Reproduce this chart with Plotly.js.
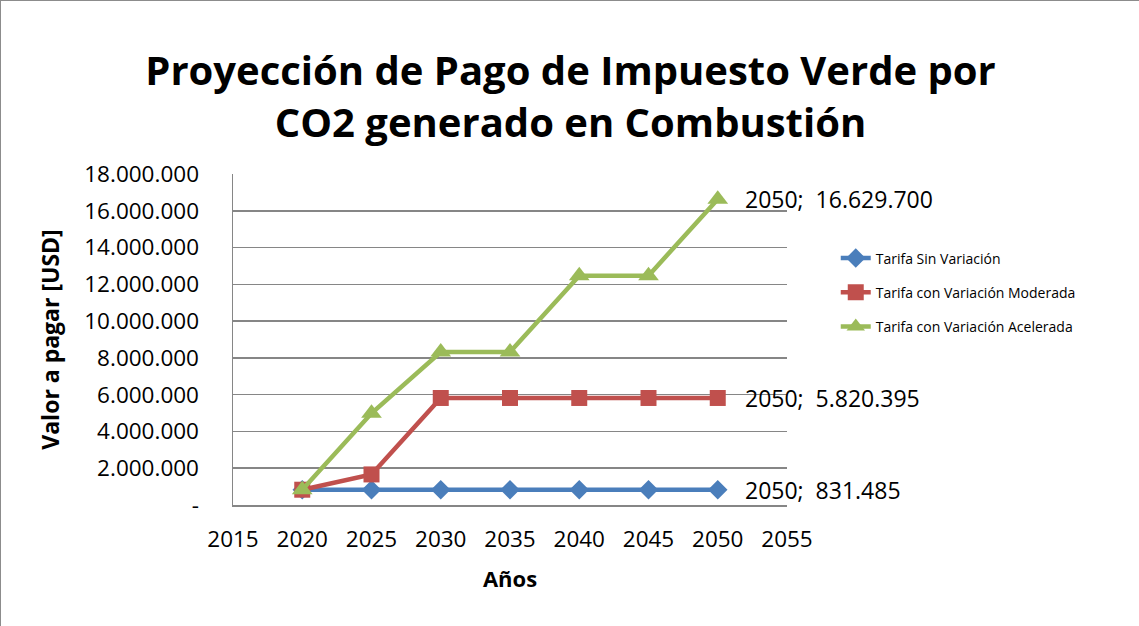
<!DOCTYPE html>
<html>
<head>
<meta charset="utf-8">
<script src="https://cdn.plot.ly/plotly-3.0.1.min.js"></script>
<style>
html,body{margin:0;padding:0;background:#fff;}
#chart{width:1139px;height:626px;box-sizing:border-box;border:1px solid #8c8c8c;}
</style>
</head>
<body>
<div id="chart"></div>
<script>
const years = [2020, 2025, 2030, 2035, 2040, 2045, 2050];
const sinVariacion = [831485, 831485, 831485, 831485, 831485, 831485, 831485];
const moderada = [831485, 1662970, 5820395, 5820395, 5820395, 5820395, 5820395];
const acelerada = [831485, 4988910, 8314850, 8314850, 12472275, 12472275, 16629700];
const seriesNames = ["Tarifa Sin Variación", "Tarifa con Variación Moderada", "Tarifa con Variación Acelerada"];
const yTickVals = [0, 2000000, 4000000, 6000000, 8000000, 10000000, 12000000, 14000000, 16000000, 18000000];
const xTickVals = [2015, 2020, 2025, 2030, 2035, 2040, 2045, 2050, 2055];

function fmt(v){
  if (v === 0) return "-";
  return Math.round(v).toString().replace(/\B(?=(\d{3})+(?!\d))/g, ".");
}

const FONT = "Open Sans, Noto Sans, sans-serif";
const colors = ["#4A7EBB", "#C0504D", "#9BBB59"];
const symbols = ["diamond", "square", "triangle-up"];
const sizes = [15, 16, 18];
const allSeries = [sinVariacion, moderada, acelerada];

const traces = allSeries.map((s, i) => ({
  x: years, y: s, name: seriesNames[i], type: "scatter", mode: "lines+markers",
  legendgroup: "g" + i,
  line: {color: colors[i], width: 4.5},
  marker: {symbol: symbols[i], size: sizes[i], color: colors[i]}
}));

const annotations = allSeries.map((s) => ({
  x: years[years.length - 1], y: s[s.length - 1], xref: "x", yref: "y",
  text: years[years.length - 1] + ";  " + fmt(s[s.length - 1]),
  showarrow: false, xanchor: "left", yanchor: "middle", xshift: 25,
  font: {family: FONT, size: 23, color: "#000"}
}));

const layout = {
  width: 1139, height: 626,
  paper_bgcolor: "#fff", plot_bgcolor: "#fff",
  margin: {l: 232, r: 353, t: 173, b: 122},
  title: {
    text: "<b>Proyección de Pago de Impuesto Verde por<br>CO2 generado en Combustión</b>",
    font: {family: FONT, size: 40, color: "#000"},
    x: 0.5, xanchor: "center", y: 0.866, yanchor: "middle"
  },
  xaxis: {
    range: [2015, 2055], tickvals: xTickVals, ticktext: xTickVals.map(String),
    showgrid: false, zeroline: false, showline: true, linecolor: "#868686", linewidth: 1.5,
    ticks: "", tickfont: {family: FONT, size: 22.5, color: "#000"}, ticklabelstandoff: 13,
    title: {text: "<b>Años</b>", font: {family: FONT, size: 22, color: "#000"}, standoff: 19}
  },
  yaxis: {
    range: [0, 18000000], tickvals: yTickVals, ticktext: yTickVals.map(fmt),
    showgrid: true, gridcolor: "#868686", gridwidth: 1.5, zeroline: false,
    showline: true, linecolor: "#868686", linewidth: 1.5, ticks: "",
    tickfont: {family: FONT, size: 22.5, color: "#000"}, ticklabelstandoff: 28,
    title: {text: "<b>Valor a pagar [USD]</b>", font: {family: FONT, size: 23, color: "#000"}, standoff: 18}
  },
  legend: {
    x: 1.088, y: 0.793, xref: "paper", yref: "paper", xanchor: "left", yanchor: "top",
    font: {family: FONT, size: 14, color: "#000"}, tracegroupgap: 13,
    bgcolor: "rgba(0,0,0,0)"
  },
  annotations: annotations,
  showlegend: true
};

Plotly.newPlot("chart", traces, layout, {displayModeBar: false, staticPlot: true});
</script>
</body>
</html>
